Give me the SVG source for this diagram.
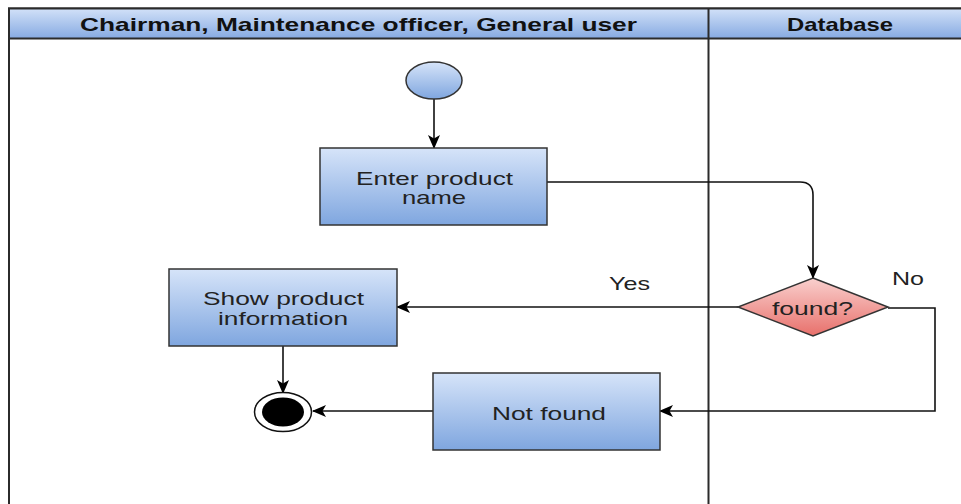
<svg xmlns="http://www.w3.org/2000/svg" width="961" height="504" viewBox="0 0 961 504">
<defs>
<linearGradient id="gBlue" x1="0" y1="0" x2="0" y2="1">
<stop offset="0" stop-color="#d6e4f9"/>
<stop offset="1" stop-color="#7fa6df"/>
</linearGradient>
<linearGradient id="gHead" x1="0" y1="0" x2="0" y2="1">
<stop offset="0" stop-color="#d2e1f8"/>
<stop offset="1" stop-color="#86aae2"/>
</linearGradient>
<linearGradient id="gRed" x1="0" y1="0" x2="0" y2="1">
<stop offset="0" stop-color="#f9d0ce"/>
<stop offset="1" stop-color="#e8706b"/>
</linearGradient>
<marker id="arr" viewBox="0 0 14 14" refX="13" refY="7" markerWidth="14" markerHeight="14" markerUnits="userSpaceOnUse" orient="auto">
<path d="M0,1 L14,7 L0,13 L3.5,7 Z" fill="#000"/>
</marker>
<style>
.lane{fill:none;stroke:#2b2b2b;stroke-width:2}
.head{fill:url(#gHead);stroke:#2b2b2b;stroke-width:2}
.box{fill:url(#gBlue);stroke:#333;stroke-width:1.5}
.ht{font-family:"Liberation Sans",Arial,sans-serif;font-weight:bold;font-size:19px;fill:#111;text-anchor:middle}
.t{font-family:"Liberation Sans",Arial,sans-serif;font-size:18.5px;fill:#222;text-anchor:middle}
.c{fill:none;stroke:#111;stroke-width:1.6}
</style>
</defs>
<rect width="961" height="504" fill="#fff"/>
<g id="pool">
<rect class="lane" x="9" y="8.5" width="965" height="510"/>
<rect class="head" x="9" y="8.5" width="965" height="30"/>
<line class="lane" x1="708.5" y1="8.5" x2="708.5" y2="510"/>
<text class="ht" x="358.5" y="30.5" textLength="557" lengthAdjust="spacingAndGlyphs">Chairman, Maintenance officer, General user</text>
<text class="ht" x="840" y="30.5" textLength="106" lengthAdjust="spacingAndGlyphs">Database</text>
</g>
<g id="connectors">
<line class="c" x1="434" y1="99" x2="434" y2="148" marker-end="url(#arr)"/>
<path class="c" d="M547,182 H800 Q813,182 813,195 V278" marker-end="url(#arr)"/>
<line class="c" x1="738" y1="307" x2="397" y2="307" marker-end="url(#arr)"/>
<path class="c" d="M888,308 H935 V411 H660" marker-end="url(#arr)"/>
<line class="c" x1="283" y1="346" x2="283" y2="393" marker-end="url(#arr)"/>
<line class="c" x1="433" y1="411" x2="313" y2="411" marker-end="url(#arr)"/>
<text class="t" x="629.5" y="290" textLength="41" lengthAdjust="spacingAndGlyphs">Yes</text>
<text class="t" x="908" y="284.5" textLength="32" lengthAdjust="spacingAndGlyphs">No</text>
</g>
<g id="start">
<ellipse cx="434" cy="80.5" rx="28" ry="18.5" fill="url(#gBlue)" stroke="#333" stroke-width="1.5"/>
</g>
<g id="enter">
<rect class="box" x="320" y="148" width="227" height="77"/>
<text class="t" x="434.5" y="185" textLength="157" lengthAdjust="spacingAndGlyphs">Enter product</text>
<text class="t" x="434" y="204" textLength="64" lengthAdjust="spacingAndGlyphs">name</text>
</g>
<g id="found">
<path d="M813,278 L888,307 L813,336 L738,307 Z" fill="url(#gRed)" stroke="#333" stroke-width="1.5"/>
<text class="t" x="812.5" y="314.5" textLength="81" lengthAdjust="spacingAndGlyphs">found?</text>
</g>
<g id="show">
<rect class="box" x="169" y="269" width="228" height="77"/>
<text class="t" x="283.5" y="305" textLength="161" lengthAdjust="spacingAndGlyphs">Show product</text>
<text class="t" x="283" y="325" textLength="130" lengthAdjust="spacingAndGlyphs">information</text>
</g>
<g id="notfound">
<rect class="box" x="433" y="373" width="227" height="77"/>
<text class="t" x="549" y="419.5" textLength="114" lengthAdjust="spacingAndGlyphs">Not found</text>
</g>
<g id="end">
<ellipse cx="283" cy="412" rx="28.5" ry="19.5" fill="#fff" stroke="#111" stroke-width="1.5"/>
<ellipse cx="283" cy="412" rx="21" ry="14.5" fill="#000"/>
</g>
</svg>
